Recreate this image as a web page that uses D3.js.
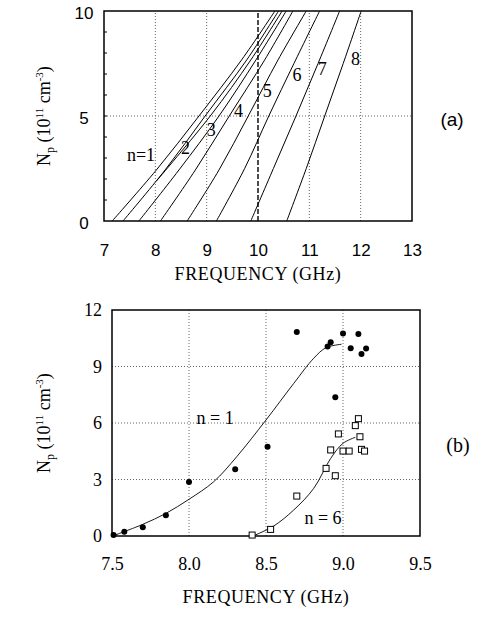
<!DOCTYPE html>
<html>
<head>
<meta charset="utf-8">
<script src="https://cdn.jsdelivr.net/npm/d3@7"></script>
<style>
  body { margin: 0; background: #fff; }
</style>
</head>
<body>
<svg id="fig" width="477" height="619"></svg>
<script>
// ---- panel (a): mode curves, points are [frequency GHz, Np 1e11 cm^-3]
var modeN1 = [[7.16, 0], [8.02, 2.43], [8.85, 5], [9.68, 7.67], [10.33, 10]];
var modeN2 = [[7.37, 0], [8.19, 2.43], [8.97, 5], [9.78, 7.67], [10.40, 10]];
var modeN2b = [[8.02, 1.9], [9.07, 5], [9.86, 7.67], [10.47, 10]];
var modeN3 = [[7.68, 0], [8.46, 2.43], [9.24, 5], [9.96, 7.67], [10.55, 10]];
var modeN4 = [[8.10, 0], [8.78, 2.43], [9.44, 5], [10.13, 7.67], [10.68, 10]];
var modeN5 = [[8.62, 0], [9.24, 2.43], [9.81, 5], [10.39, 7.67], [10.94, 10]];
var modeN6 = [[9.19, 0], [9.74, 2.5], [10.21, 5], [10.70, 7.5], [11.20, 10]];
var modeN7 = [[9.86, 0], [10.30, 2.5], [10.74, 5], [11.17, 7.5], [11.59, 10]];
var modeN8 = [[10.56, 0], [10.94, 2.5], [11.30, 5], [11.66, 7.5], [12.01, 10]];
var modeLabels = ["n=1", "2", "3", "4", "5", "6", "7", "8"];
var modeLabelAt = [[7.72, 3.14], [8.59, 3.48], [9.09, 4.33], [9.62, 5.25],
                   [10.18, 6.19], [10.76, 6.95], [11.25, 7.27], [11.90, 7.75]];
var topTicksX = [7, 8, 9, 10, 11, 12, 13];
var topTicksY = [0, 5, 10];

// ---- panel (b): measured points and fitted curves
var n1Freq = [7.51, 7.58, 7.70, 7.85, 8.00, 8.30, 8.51, 8.70, 8.90, 8.92, 8.95, 9.00, 9.05, 9.10, 9.12, 9.15];
var n1Np = [0.05, 0.23, 0.46, 1.10, 2.87, 3.54, 4.74, 10.83, 10.06, 10.29, 7.37, 10.75, 9.97, 10.73, 9.67, 9.95];
var n6Freq = [8.41, 8.53, 8.70, 8.89, 8.95, 8.92, 8.97, 9.00, 9.04, 9.08, 9.10, 9.11, 9.12, 9.14];
var n6Np = [0.05, 0.35, 2.12, 3.59, 3.20, 4.57, 5.42, 4.51, 4.51, 5.86, 6.23, 5.27, 4.60, 4.51];
var n1FitFreq = [7.52, 7.70, 7.85, 8.00, 8.16, 8.31, 8.50, 8.68, 8.81, 8.89, 8.99];
var n1FitNp = [0.05, 0.62, 1.20, 1.95, 2.88, 4.21, 6.16, 8.10, 9.44, 10.00, 10.18];
var n6FitFreq = [8.43, 8.55, 8.68, 8.81, 8.92, 9.00, 9.08];
var n6FitNp = [0.05, 0.53, 1.38, 2.53, 4.12, 4.92, 5.24];
var botTicksX = [7.5, 8.0, 8.5, 9.0, 9.5];
var botTicksY = [0, 3, 6, 9, 12];

var serif = "'Liberation Serif', 'DejaVu Serif', serif";
var sans = "'Liberation Sans', Arial, sans-serif";

var svg = d3.select("#fig");

// y axis title with sub/superscripts
function npTitle(g, x, y) {
  var t = g.append("text")
    .attr("transform", "translate(" + x + "," + y + ") rotate(-90)")
    .attr("text-anchor", "middle")
    .style("font-family", serif)
    .style("font-size", "18px");
  t.append("tspan").text("N");
  t.append("tspan").attr("dy", 4).style("font-size", "12px").text("p");
  t.append("tspan").attr("dy", -4).text(" (10");
  t.append("tspan").attr("dy", -7).style("font-size", "11px").text("11");
  t.append("tspan").attr("dy", 7).text(" cm");
  t.append("tspan").attr("dy", -7).style("font-size", "11px").text("-3");
  t.append("tspan").attr("dy", 7).text(")");
}

function dotted(sel) {
  return sel.style("stroke", "#666").style("stroke-width", 1).style("stroke-dasharray", "1,2");
}

// ================= panel (a) =================
var xA = d3.scaleLinear().domain([7, 13]).range([104, 412]);
var yA = d3.scaleLinear().domain([0, 10]).range([221, 11]);
var gA = svg.append("g");

gA.selectAll(".gx").data([8, 9, 11, 12]).enter().append("line")
  .attr("x1", d => xA(d)).attr("x2", d => xA(d))
  .attr("y1", yA(0)).attr("y2", yA(10)).call(dotted);
gA.append("line")
  .attr("x1", xA(7)).attr("x2", xA(13))
  .attr("y1", yA(5)).attr("y2", yA(5)).call(dotted);
// dashed line at 10 GHz
gA.append("line")
  .attr("x1", xA(10)).attr("x2", xA(10))
  .attr("y1", yA(0)).attr("y2", yA(10))
  .style("stroke", "#000").style("stroke-width", 1.4).style("stroke-dasharray", "5,2");

// minor ticks on left axis
gA.selectAll(".mt").data(d3.range(1, 10)).enter().append("line")
  .attr("x1", xA(7)).attr("x2", xA(7) + 3)
  .attr("y1", d => yA(d)).attr("y2", d => yA(d))
  .style("stroke", "#000").style("stroke-width", 1);

var modeLine = d3.line()
  .x(d => xA(d[0])).y(d => yA(d[1]))
  .curve(d3.curveCatmullRom.alpha(0.5));

var modes = [modeN1, modeN2, modeN2b, modeN3, modeN4, modeN5, modeN6, modeN7, modeN8];
gA.selectAll(".mode").data(modes).enter().append("path")
  .attr("d", modeLine)
  .style("fill", "none").style("stroke", "#000").style("stroke-width", 1);

gA.append("rect")
  .attr("x", xA(7)).attr("y", yA(10))
  .attr("width", xA(13) - xA(7)).attr("height", yA(0) - yA(10))
  .style("fill", "none").style("stroke", "#000").style("stroke-width", 1.5);

gA.selectAll(".ml").data(modeLabels).enter().append("text")
  .attr("x", (d, i) => xA(modeLabelAt[i][0]))
  .attr("y", (d, i) => yA(modeLabelAt[i][1]))
  .attr("dy", "0.35em")
  .attr("text-anchor", "middle")
  .style("font-family", serif).style("font-size", "18px")
  .text(d => d);

var axA = d3.axisBottom(xA).tickValues(topTicksX).tickSize(0).tickPadding(23)
  .tickFormat(d3.format("d"));
gA.append("g").attr("transform", "translate(0," + yA(0) + ")").call(axA)
  .call(g => g.select(".domain").remove())
  .selectAll("text").style("font-family", sans).style("font-size", "17px").attr("fill", "#000");

var ayA = d3.axisLeft(yA).tickValues(topTicksY).tickSize(0).tickPadding(13)
  .tickFormat(d3.format("d"));
gA.append("g").attr("transform", "translate(" + xA(7) + ",0)").call(ayA)
  .call(g => g.select(".domain").remove())
  .selectAll("text").style("font-family", sans).style("font-size", "17px")
  .attr("text-anchor", "middle").attr("x", -20).attr("dy", "0.45em").attr("fill", "#000");

gA.append("text")
  .attr("x", (xA(7) + xA(13)) / 2).attr("y", 280)
  .attr("text-anchor", "middle")
  .style("font-family", serif).style("font-size", "18px").style("letter-spacing", "0.6px")
  .text("FREQUENCY (GHz)");

npTitle(gA, 50, yA(5));

gA.append("text")
  .attr("x", 452).attr("y", yA(5) + 10)
  .attr("text-anchor", "middle")
  .style("font-family", sans).style("font-size", "19px")
  .text("(a)");

// ================= panel (b) =================
var xB = d3.scaleLinear().domain([7.5, 9.5]).range([112, 420]);
var yB = d3.scaleLinear().domain([0, 12]).range([536, 310]);
var gB = svg.append("g");

gB.selectAll(".gx").data([8.0, 8.5, 9.0]).enter().append("line")
  .attr("x1", d => xB(d)).attr("x2", d => xB(d))
  .attr("y1", yB(0)).attr("y2", yB(12)).call(dotted);
gB.selectAll(".gy").data([3, 6, 9]).enter().append("line")
  .attr("x1", xB(7.5)).attr("x2", xB(9.5))
  .attr("y1", d => yB(d)).attr("y2", d => yB(d)).call(dotted);

gB.append("rect")
  .attr("x", xB(7.5)).attr("y", yB(12))
  .attr("width", xB(9.5) - xB(7.5)).attr("height", yB(0) - yB(12))
  .style("fill", "none").style("stroke", "#000").style("stroke-width", 1.5);

var fitLine = d3.line()
  .x(d => xB(d[0])).y(d => yB(d[1]))
  .curve(d3.curveCatmullRom.alpha(0.5));

gB.append("path")
  .attr("d", fitLine(d3.zip(n1FitFreq, n1FitNp)))
  .style("fill", "none").style("stroke", "#000").style("stroke-width", 0.9);
gB.append("path")
  .attr("d", fitLine(d3.zip(n6FitFreq, n6FitNp)))
  .style("fill", "none").style("stroke", "#000").style("stroke-width", 0.9);

gB.selectAll(".c").data(d3.zip(n1Freq, n1Np)).enter().append("circle")
  .attr("cx", d => xB(d[0])).attr("cy", d => yB(d[1]))
  .attr("r", 3).style("fill", "#000");

gB.selectAll(".s").data(d3.zip(n6Freq, n6Np)).enter().append("rect")
  .attr("x", d => xB(d[0]) - 3).attr("y", d => yB(d[1]) - 3)
  .attr("width", 6).attr("height", 6)
  .style("fill", "#fff").style("stroke", "#000").style("stroke-width", 1);

gB.append("text")
  .attr("x", xB(8.17)).attr("y", yB(6.3)).attr("dy", "0.35em")
  .attr("text-anchor", "middle")
  .style("font-family", serif).style("font-size", "18px")
  .text("n = 1");
gB.append("text")
  .attr("x", xB(8.87)).attr("y", yB(0.95)).attr("dy", "0.35em")
  .attr("text-anchor", "middle")
  .style("font-family", serif).style("font-size", "18px")
  .text("n = 6");

var axB = d3.axisBottom(xB).tickValues(botTicksX).tickSize(0).tickPadding(21)
  .tickFormat(d3.format(".1f"));
gB.append("g").attr("transform", "translate(0," + yB(0) + ")").call(axB)
  .call(g => g.select(".domain").remove())
  .selectAll("text").style("font-family", serif).style("font-size", "18px").attr("fill", "#000");

var ayB = d3.axisLeft(yB).tickValues(botTicksY).tickSize(0).tickPadding(10)
  .tickFormat(d3.format("d"));
gB.append("g").attr("transform", "translate(" + xB(7.5) + ",0)").call(ayB)
  .call(g => g.select(".domain").remove())
  .selectAll("text").style("font-family", serif).style("font-size", "18px").attr("fill", "#000");

gB.append("text")
  .attr("x", (xB(7.5) + xB(9.5)) / 2).attr("y", 603)
  .attr("text-anchor", "middle")
  .style("font-family", serif).style("font-size", "18px").style("letter-spacing", "0.6px")
  .text("FREQUENCY (GHz)");

npTitle(gB, 50, yB(6));

gB.append("text")
  .attr("x", 458).attr("y", yB(4.85) + 7)
  .attr("text-anchor", "middle")
  .style("font-family", serif).style("font-size", "20px")
  .text("(b)");
</script>
</body>
</html>
